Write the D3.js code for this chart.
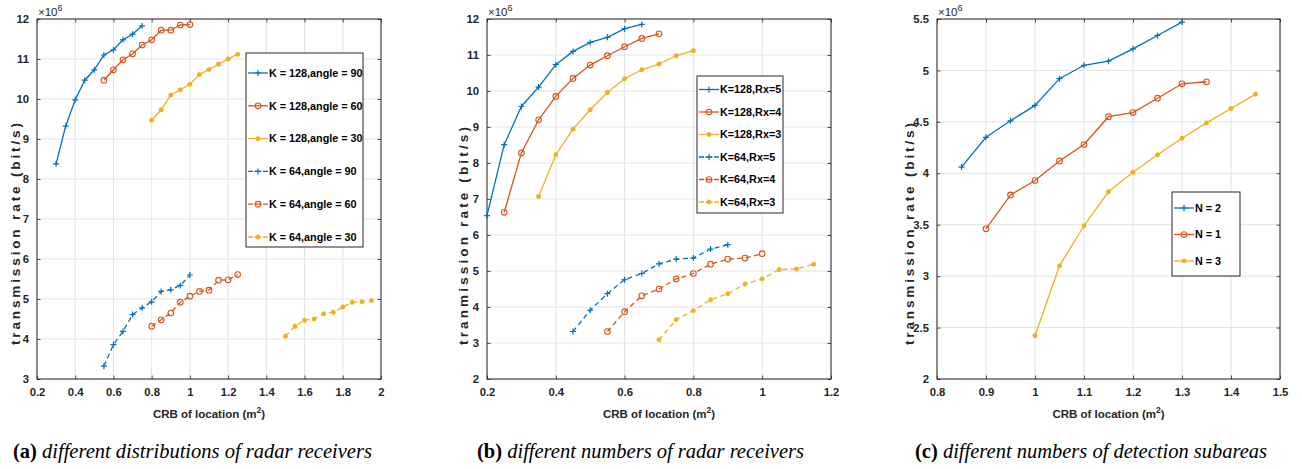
<!DOCTYPE html>
<html><head><meta charset="utf-8">
<script src="https://cdn.jsdelivr.net/npm/d3@7/dist/d3.min.js"></script>
<style>
html,body{margin:0;padding:0;background:#fff;}
svg{display:block;}
</style></head>
<body>
<svg id="chart" width="1302" height="469"></svg>
<script>
// ---------------- DATA ----------------
// Panel (a): different distributions of radar receivers
const aNames = ["K = 128,angle = 90","K = 128,angle = 60","K = 128,angle = 30","K = 64,angle = 90","K = 64,angle = 60","K = 64,angle = 30"];
const aX128_90 = [0.3,0.35,0.4,0.45,0.5,0.55,0.6,0.65,0.7,0.75];
const aY128_90 = [8.38,9.32,9.98,10.47,10.73,11.10,11.23,11.48,11.62,11.83];
const aX128_60 = [0.55,0.6,0.65,0.7,0.75,0.8,0.85,0.9,0.95,1.0];
const aY128_60 = [10.47,10.73,10.98,11.13,11.35,11.48,11.72,11.72,11.85,11.86];
const aX128_30 = [0.8,0.85,0.9,0.95,1.0,1.05,1.1,1.15,1.2,1.25];
const aY128_30 = [9.47,9.73,10.10,10.23,10.37,10.61,10.74,10.87,11.00,11.12];
const aX64_90 = [0.55,0.6,0.65,0.7,0.75,0.8,0.85,0.9,0.95,1.0];
const aY64_90 = [3.32,3.86,4.19,4.61,4.78,4.93,5.19,5.23,5.34,5.60];
const aX64_60 = [0.8,0.85,0.9,0.95,1.0,1.05,1.1,1.15,1.2,1.25];
const aY64_60 = [4.32,4.48,4.65,4.92,5.07,5.19,5.22,5.47,5.48,5.61];
const aX64_30 = [1.5,1.55,1.6,1.65,1.7,1.75,1.8,1.85,1.9,1.95];
const aY64_30 = [4.07,4.32,4.47,4.50,4.63,4.67,4.80,4.92,4.93,4.96];
const aXTicks = [0.2,0.4,0.6,0.8,1,1.2,1.4,1.6,1.8,2];
const aYTicks = [3,4,5,6,7,8,9,10,11,12];

// Panel (b): different numbers of radar receivers
const bNames = ["K=128,Rx=5","K=128,Rx=4","K=128,Rx=3","K=64,Rx=5","K=64,Rx=4","K=64,Rx=3"];
const bX128_5 = [0.2,0.25,0.3,0.35,0.4,0.45,0.5,0.55,0.6,0.65];
const bY128_5 = [6.54,8.51,9.57,10.11,10.73,11.10,11.35,11.49,11.73,11.85];
const bX128_4 = [0.25,0.3,0.35,0.4,0.45,0.5,0.55,0.6,0.65,0.7];
const bY128_4 = [6.63,8.28,9.20,9.85,10.35,10.72,10.98,11.23,11.46,11.59];
const bX128_3 = [0.35,0.4,0.45,0.5,0.55,0.6,0.65,0.7,0.75,0.8];
const bY128_3 = [7.07,8.23,8.94,9.48,9.96,10.34,10.59,10.75,10.98,11.12];
const bX64_5 = [0.45,0.5,0.55,0.6,0.65,0.7,0.75,0.8,0.85,0.9];
const bY64_5 = [3.32,3.91,4.37,4.76,4.93,5.20,5.33,5.36,5.61,5.73];
const bX64_4 = [0.55,0.6,0.65,0.7,0.75,0.8,0.85,0.9,0.95,1.0];
const bY64_4 = [3.32,3.87,4.31,4.50,4.78,4.93,5.19,5.33,5.36,5.48];
const bX64_3 = [0.7,0.75,0.8,0.85,0.9,0.95,1.0,1.05,1.1,1.15];
const bY64_3 = [3.09,3.65,3.90,4.20,4.37,4.64,4.78,5.04,5.06,5.19];
const bXTicks = [0.2,0.4,0.6,0.8,1,1.2];
const bYTicks = [2,3,4,5,6,7,8,9,10,11,12];

// Panel (c): different numbers of detection subareas
const cNames = ["N = 2","N = 1","N = 3"];
const cXN2 = [0.85,0.9,0.95,1.0,1.05,1.1,1.15,1.2,1.25,1.3];
const cYN2 = [4.06,4.35,4.51,4.66,4.92,5.05,5.09,5.21,5.34,5.47];
const cXN1 = [0.9,0.95,1.0,1.05,1.1,1.15,1.2,1.25,1.3,1.35];
const cYN1 = [3.46,3.79,3.93,4.12,4.28,4.55,4.59,4.73,4.87,4.89];
const cXN3 = [1.0,1.05,1.1,1.15,1.2,1.25,1.3,1.35,1.4,1.45];
const cYN3 = [2.42,3.10,3.49,3.82,4.01,4.18,4.34,4.49,4.63,4.77];
const cXTicks = [0.8,0.9,1,1.1,1.2,1.3,1.4,1.5];
const cYTicks = [2,2.5,3,3.5,4,4.5,5,5.5];

const captions = [
  {label:"(a)", text:" different distributions of radar receivers"},
  {label:"(b)", text:" different numbers of radar receivers"},
  {label:"(c)", text:" different numbers of detection subareas"}
];

// ---------------- STYLE ----------------
const BLUE = "#0072BD", ORANGE = "#D95319", YELLOW = "#EDB120";
const AX = "#262626";
const FONT = "'Liberation Sans', Arial, Helvetica, sans-serif";
const SERIF = "'Liberation Serif', 'Times New Roman', serif";

const svg = d3.select("#chart");

function zip(xs, ys){ return xs.map((x,i)=>({x:x, y:ys[i]})); }

function drawMarker(g, type, color, cx, cy){
  if(type === "+"){
    g.append("path").attr("d", `M${cx-3},${cy}H${cx+3}M${cx},${cy-3}V${cy+3}`)
      .attr("stroke", color).attr("stroke-width", 1.2).attr("fill","none");
  } else if(type === "o"){
    g.append("circle").attr("cx",cx).attr("cy",cy).attr("r",2.8)
      .attr("fill","none").attr("stroke",color).attr("stroke-width",1.1);
  } else {
    g.append("circle").attr("cx",cx).attr("cy",cy).attr("r",2.2)
      .attr("fill",color).attr("stroke",color).attr("stroke-width",0.5);
  }
}

function drawPanel(p){
  const g = svg.append("g");
  const x = d3.scaleLinear().domain(p.xDomain).range([p.left, p.right]);
  const y = d3.scaleLinear().domain(p.yDomain).range([p.bottom, p.top]);

  // grid
  g.append("g").selectAll("line").data(p.xTicks).join("line")
    .attr("x1", d=>x(d)).attr("x2", d=>x(d)).attr("y1", p.top).attr("y2", p.bottom)
    .attr("stroke", "#e3e3e3").attr("stroke-width", 1);
  g.append("g").selectAll("line").data(p.yTicks).join("line")
    .attr("x1", p.left).attr("x2", p.right).attr("y1", d=>y(d)).attr("y2", d=>y(d))
    .attr("stroke", "#e3e3e3").attr("stroke-width", 1);

  // axes with inward ticks
  const fmt = d => String(+d.toFixed(2));
  const axB = g.append("g").attr("transform", `translate(0,${p.bottom})`)
    .call(d3.axisBottom(x).tickValues(p.xTicks).tickFormat(fmt).tickSizeInner(-3.5).tickSizeOuter(0).tickPadding(9));
  const axL = g.append("g").attr("transform", `translate(${p.left},0)`)
    .call(d3.axisLeft(y).tickValues(p.yTicks).tickFormat(fmt).tickSizeInner(-3.5).tickSizeOuter(0).tickPadding(8));
  const axT = g.append("g").attr("transform", `translate(0,${p.top})`)
    .call(d3.axisTop(x).tickValues(p.xTicks).tickFormat("").tickSizeInner(-3.5).tickSizeOuter(0));
  const axR = g.append("g").attr("transform", `translate(${p.right},0)`)
    .call(d3.axisRight(y).tickValues(p.yTicks).tickFormat("").tickSizeInner(-3.5).tickSizeOuter(0));
  [axB, axL, axT, axR].forEach(a=>{
    a.select(".domain").remove();
    a.selectAll(".tick line").attr("stroke", AX).attr("stroke-width", 0.8);
    a.selectAll(".tick text").attr("fill", AX).attr("font-family", FONT)
      .attr("font-weight","bold").attr("font-size", 11.3);
  });
  g.append("rect").attr("x", p.left).attr("y", p.top)
    .attr("width", p.right-p.left).attr("height", p.bottom-p.top)
    .attr("fill","none").attr("stroke", AX).attr("stroke-width", 1);

  // x10^6
  const ex = g.append("text").attr("x", p.left+1).attr("y", p.top-3)
    .attr("font-family", FONT).attr("font-size", 11.5).attr("fill", AX);
  ex.append("tspan").text("\u00d710");
  ex.append("tspan").attr("dy", -5).attr("font-size", 9).text("6");

  // series
  const line = d3.line().x(d=>x(d.x)).y(d=>y(d.y));
  p.series.forEach(s=>{
    const data = zip(s.xs, s.ys);
    g.append("path").datum(data).attr("d", line)
      .attr("fill","none").attr("stroke", s.color).attr("stroke-width", 1.3)
      .attr("stroke-dasharray", s.dash ? "5,3.5" : null);
    const mg = g.append("g");
    data.forEach(d=>drawMarker(mg, s.marker, s.color, x(d.x), y(d.y)));
  });

  // axis labels
  const xl = g.append("text").attr("x", (p.left+p.right)/2).attr("y", 418)
    .attr("text-anchor","middle").attr("font-family", FONT).attr("font-weight","bold")
    .attr("font-size", 11.5).attr("fill", AX);
  xl.append("tspan").text("CRB of location (m");
  xl.append("tspan").attr("dy", -5).attr("font-size", 8.5).text("2");
  xl.append("tspan").attr("dy", 5).text(")");

  g.append("text").attr("transform", `translate(${p.yLabelX},345) rotate(-90)`)
    .attr("text-anchor","start").attr("font-family", FONT).attr("font-weight","bold")
    .attr("font-size", 13.5).attr("fill", AX)
    .attr("textLength", p.yLabelLen).attr("lengthAdjust","spacing")
    .text(p.yLabel);

  // legend
  const L = p.legend;
  const lg = g.append("g");
  lg.append("rect").attr("x", L.x0).attr("y", L.y0).attr("width", L.x1-L.x0).attr("height", L.y1-L.y0)
    .attr("fill","#fff").attr("stroke", AX).attr("stroke-width", 1);
  p.series.forEach((s,i)=>{
    const cy = L.first + i*L.step;
    const lx0 = L.x0+2, lx1 = L.x0+22, mx = (lx0+lx1)/2;
    if(s.dash){
      lg.append("path").attr("d", `M${lx0},${cy}H${lx0+5}M${mx-3.5},${cy}H${mx+3.5}M${lx1-5},${cy}H${lx1}`)
        .attr("stroke", s.color).attr("stroke-width", 1.3).attr("fill","none");
    } else {
      lg.append("line").attr("x1", lx0).attr("x2", lx1).attr("y1", cy).attr("y2", cy)
        .attr("stroke", s.color).attr("stroke-width", 1.3);
    }
    drawMarker(lg, s.marker, s.color, mx, cy);
    lg.append("text").attr("x", lx1+1).attr("y", cy).attr("dy","0.36em")
      .attr("font-family", FONT).attr("font-weight","bold").attr("font-size", 10.8)
      .attr("fill", "#000").text(p.names[i]);
  });
}

function ser(xs, ys, color, marker, dash){ return {xs, ys, color, marker, dash}; }

drawPanel({
  left:37, right:381, top:19, bottom:379,
  xDomain:[0.2,2], yDomain:[3,12], xTicks:aXTicks, yTicks:aYTicks,
  yLabel:"transmission rate (bit/s)", yLabelX:20, yLabelLen:222,
  names:aNames,
  series:[
    ser(aX128_90,aY128_90,BLUE,"+",false), ser(aX128_60,aY128_60,ORANGE,"o",false),
    ser(aX128_30,aY128_30,YELLOW,".",false), ser(aX64_90,aY64_90,BLUE,"+",true),
    ser(aX64_60,aY64_60,ORANGE,"o",true), ser(aX64_30,aY64_30,YELLOW,".",true)
  ],
  legend:{x0:246, x1:363, y0:53, y1:247, first:73, step:32.8}
});

drawPanel({
  left:487, right:831, top:19, bottom:379,
  xDomain:[0.2,1.2], yDomain:[2,12], xTicks:bXTicks, yTicks:bYTicks,
  yLabel:"tranmission rate (bit/s)", yLabelX:468, yLabelLen:218,
  names:bNames,
  series:[
    ser(bX128_5,bY128_5,BLUE,"+",false), ser(bX128_4,bY128_4,ORANGE,"o",false),
    ser(bX128_3,bY128_3,YELLOW,".",false), ser(bX64_5,bY64_5,BLUE,"+",true),
    ser(bX64_4,bY64_4,ORANGE,"o",true), ser(bX64_3,bY64_3,YELLOW,".",true)
  ],
  legend:{x0:697, x1:783, y0:76, y1:213, first:89.5, step:22.5}
});

drawPanel({
  left:937, right:1280, top:19, bottom:379,
  xDomain:[0.8,1.5], yDomain:[2,5.5], xTicks:cXTicks, yTicks:cYTicks,
  yLabel:"transmission rate (bit/s)", yLabelX:914, yLabelLen:222,
  names:cNames,
  series:[
    ser(cXN2,cYN2,BLUE,"+",false), ser(cXN1,cYN1,ORANGE,"o",false), ser(cXN3,cYN3,YELLOW,".",false)
  ],
  legend:{x0:1172, x1:1240, y0:192, y1:276, first:208, step:26.5}
});

// captions
const capX = [13, 477, 915];
captions.forEach((c,i)=>{
  const t = svg.append("text").attr("x", capX[i]).attr("y", 458)
    .attr("font-family", SERIF).attr("font-size", 20.5).attr("fill", "#000");
  t.append("tspan").attr("font-weight","bold").text(c.label);
  t.append("tspan").attr("font-style","italic").text(c.text);
});
</script>
</body></html>
